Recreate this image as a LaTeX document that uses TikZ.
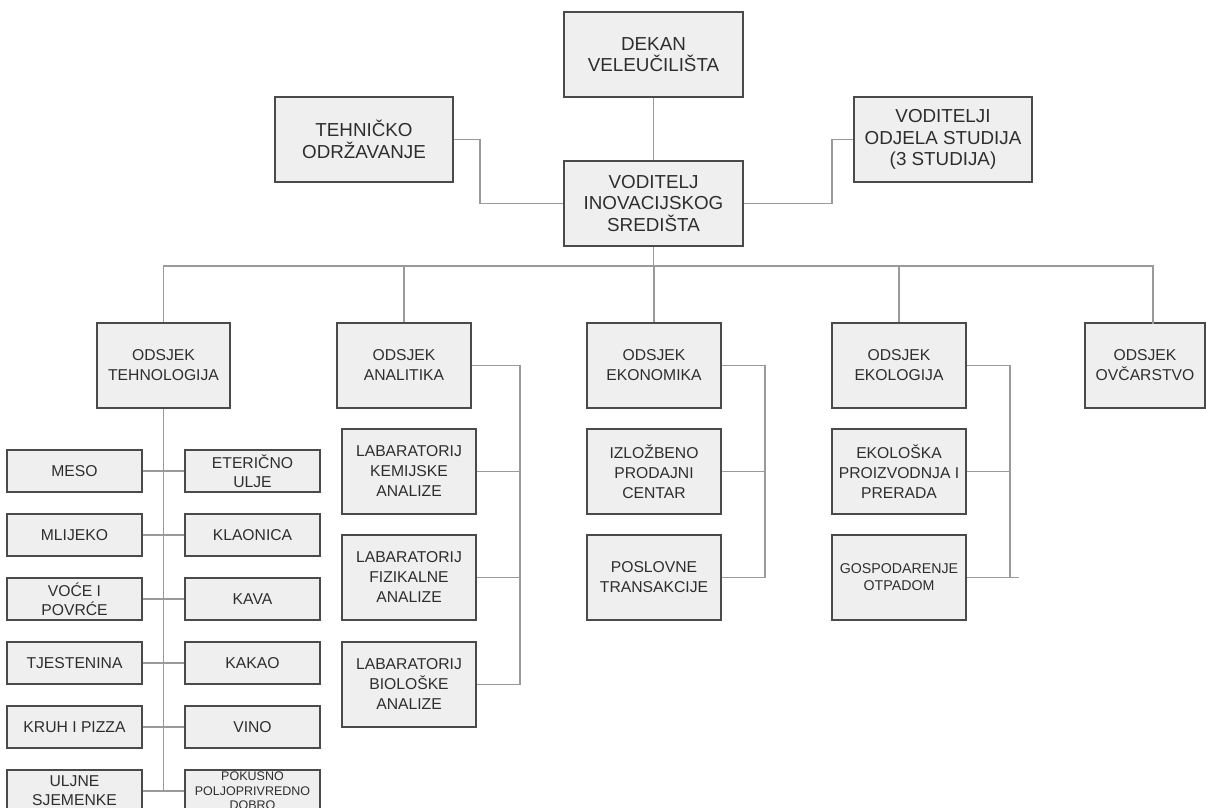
\documentclass[tikz,border=0pt]{standalone}
\usepackage{fontspec}
\setmainfont{Liberation Sans}
\definecolor{boxfill}{HTML}{EFEFEF}
\definecolor{boxline}{HTML}{4A4A4A}
\definecolor{txt}{HTML}{2E2E2E}
\definecolor{conn}{HTML}{9A9A9A}
\begin{document}
\begin{tikzpicture}[x=1pt,y=-1pt,
  box/.style={draw=boxline, fill=boxfill, line width=1.4pt, text=txt, align=center, inner sep=0pt, anchor=center},
  topbox/.style={box, minimum width=179pt, minimum height=85pt, font=\fontsize{18.8}{21.7}\selectfont},
  depbox/.style={box, minimum width=134pt, minimum height=85pt, font=\fontsize{15.7}{20}\selectfont},
  smallbox/.style={box, minimum width=135pt, minimum height=42pt, font=\fontsize{15.7}{19}\selectfont},
  link/.style={draw=conn, line width=1.4pt}
]
\useasboundingbox[fill=white] (0,0) rectangle (1206,807);

% top level
\node[topbox] (dekan) at (653.5,54.5) {DEKAN\\VELEUČILIŠTA};
\node[topbox] (vod) at (653.5,203.5) {VODITELJ\\INOVACIJSKOG\\SREDIŠTA};
\node[topbox, minimum width=178pt] (teh) at (364,139.5) {TEHNIČKO\\ODRŽAVANJE};
\node[topbox, minimum width=178pt] (vodj) at (943,139.5) {VODITELJI\\ODJELA STUDIJA\\(3 STUDIJA)};

% departments
\node[depbox, minimum width=133pt] (tehn) at (163.5,365.5) {ODSJEK\\TEHNOLOGIJA};
\node[depbox] (anal) at (404,365.5) {ODSJEK\\ANALITIKA};
\node[depbox] (ekon) at (654,365.5) {ODSJEK\\EKONOMIKA};
\node[depbox] (ekol) at (899,365.5) {ODSJEK\\EKOLOGIJA};
\node[depbox, minimum width=120pt] (ovc) at (1145,365.5) {ODSJEK\\OVČARSTVO};

% analitika labs
\node[depbox] (lab1) at (409,471.5) {LABARATORIJ\\KEMIJSKE\\ANALIZE};
\node[depbox] (lab2) at (409,577.5) {LABARATORIJ\\FIZIKALNE\\ANALIZE};
\node[depbox] (lab3) at (409,684.5) {LABARATORIJ\\BIOLOŠKE\\ANALIZE};

% ekonomika
\node[depbox] (ek1) at (654,471.5) {IZLOŽBENO\\PRODAJNI\\CENTAR};
\node[depbox] (ek2) at (654,577.5) {POSLOVNE\\TRANSAKCIJE};

% ekologija
\node[depbox] (eo1) at (899,471.5) {EKOLOŠKA\\PROIZVODNJA I\\PRERADA};
\node[depbox, font=\fontsize{14.2}{17}\selectfont] (eo2) at (899,577.5) {GOSPODARENJE\\OTPADOM};

% tehnologija sub-units
\node[smallbox] (l1) at (74.5,471) {MESO};
\node[smallbox] (l2) at (74.5,535) {MLIJEKO};
\node[smallbox] (l3) at (74.5,599) {VOĆE I\\POVRĆE};
\node[smallbox] (l4) at (74.5,663) {TJESTENINA};
\node[smallbox] (l5) at (74.5,727) {KRUH I PIZZA};
\node[smallbox] (l6) at (74.5,791) {ULJNE\\SJEMENKE};
\node[smallbox] (r1) at (252.5,471) {ETERIČNO\\ULJE};
\node[smallbox] (r2) at (252.5,535) {KLAONICA};
\node[smallbox] (r3) at (252.5,599) {KAVA};
\node[smallbox] (r4) at (252.5,663) {KAKAO};
\node[smallbox] (r5) at (252.5,727) {VINO};
\node[smallbox, font=\fontsize{12.5}{14.5}\selectfont] (r6) at (252.5,791) {\raisebox{4pt}{\parbox{135pt}{\centering POKUSNO\\POLJOPRIVREDNO\\DOBRO}}};

% connectors
\coordinate (bus) at (653.5,266);
\coordinate (tk) at (480,139.5);
\coordinate (vk) at (832,139.5);
\draw[link] (dekan.south) -- (vod.north);
\draw[link] (teh.east) -- (tk) |- (vod.west);
\draw[link] (vodj.west) -- (vk) |- (vod.east);
\draw[link] (vod.south) -- (bus);
\draw[link] (tehn.north) |- (bus);
\draw[link] (bus) -| (1153,323.5);
\draw[link] (anal.north) -- (anal.north |- bus);
\draw[link] (ekon.north) -- (ekon.north |- bus);
\draw[link] (ekol.north) -- (ekol.north |- bus);

\coordinate (ta) at (163.5,791);
\draw[link] (tehn.south) -- (ta);
\draw[link] (l1.east) -- (r1.west);
\draw[link] (l2.east) -- (r2.west);
\draw[link] (l3.east) -- (r3.west);
\draw[link] (l4.east) -- (r4.west);
\draw[link] (l5.east) -- (r5.west);
\draw[link] (l6.east) -- (r6.west);

\coordinate (aa) at (520,365.5);
\coordinate (ab) at (520,684.5);
\draw[link] (anal.east) -- (aa) -- (ab);
\draw[link] (lab1.east) -- (lab1.east -| aa);
\draw[link] (lab2.east) -- (lab2.east -| aa);
\draw[link] (lab3.east) -- (ab);

\coordinate (ea) at (765,365.5);
\coordinate (eb) at (765,577.5);
\draw[link] (ekon.east) -- (ea) -- (eb);
\draw[link] (ek1.east) -- (ek1.east -| ea);
\draw[link] (ek2.east) -- (eb);

\coordinate (oa) at (1010,365.5);
\coordinate (ob) at (1010,577.5);
\coordinate (oc) at (1019,577.5);
\draw[link] (ekol.east) -- (oa) -- (ob);
\draw[link] (eo1.east) -- (eo1.east -| oa);
\draw[link] (eo2.east) -- (oc);
\end{tikzpicture}
\end{document}
